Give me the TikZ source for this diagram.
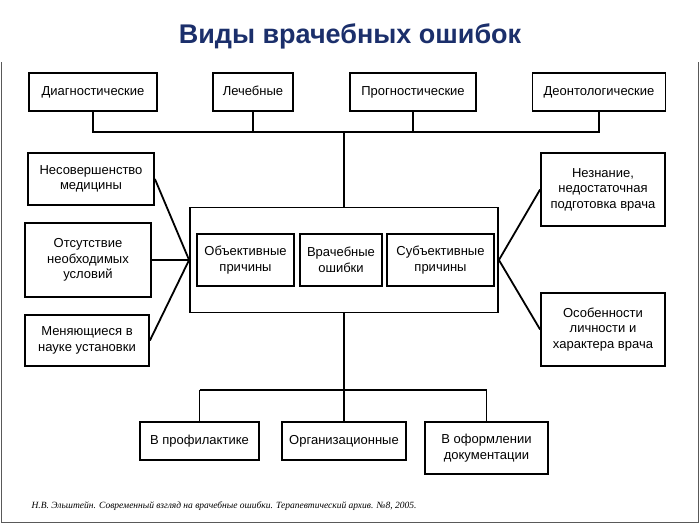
\documentclass[tikz,border=0pt]{standalone}
\usepackage{fontspec}
\setmainfont{Liberation Sans}
\newfontfamily\capfont{Liberation Serif}
\begin{document}
\begin{tikzpicture}[x=1pt,y=-1pt,
  bx/.style={draw,line width=1.8pt,inner sep=1pt,align=center,font=\fontsize{13}{15.5}\selectfont,fill=white},
  one/.style={text height=9.5pt,text depth=3pt},
  ln/.style={line width=1.8pt}]
\useasboundingbox (0,0) rectangle (700,525);
\definecolor{ttl}{HTML}{1B2F6B}
\node[font=\bfseries\fontsize{27}{30}\selectfont,text=ttl] (title) at (350,36) {Виды врачебных ошибок};
\draw[line width=1pt,gray!70!black] (1.5,62) -- (1.5,522) -- (698.5,522) -- (698.5,62);
% top
\node[bx,one,minimum width=128,minimum height=38] (d) at (93,92) {Диагностические};
\node[bx,one,minimum width=80,minimum height=38] (l) at (253,92) {Лечебные};
\node[bx,one,minimum width=126,minimum height=38] (p) at (413,92) {Прогностические};
\node[bx,one,minimum width=133,minimum height=38] (de) at (599,92) {Деонтологические};
\node[bx,minimum width=308,minimum height=105] (c) at (344,260) {};
\node[bx,minimum width=97,minimum height=52] (o) at (245.5,260) {Объективные\\причины};
\node[bx,minimum width=82,minimum height=52] (v) at (341,260) {Врачебные\\ошибки};
\node[bx,minimum width=107,minimum height=52] (s) at (440.5,260) {Субъективные\\причины};
\node[bx,minimum width=126,minimum height=52] (l1) at (91,179) {Несовершенство\\медицины};
\node[bx,minimum width=126,minimum height=74] (l2) at (88,260) {Отсутствие\\необходимых\\условий};
\node[bx,minimum width=124,minimum height=51] (l3) at (87,340.5) {Меняющиеся в\\науке установки};
\node[bx,minimum width=124,minimum height=73] (r1) at (603,189.5) {Незнание,\\недостаточная\\подготовка врача};
\node[bx,minimum width=124,minimum height=73] (r2) at (603,329.5) {Особенности\\личности и\\характера врача};
\node[bx,one,minimum width=119,minimum height=38] (b1) at (199.5,441) {В профилактике};
\node[bx,one,minimum width=124,minimum height=38] (b2) at (344,441) {Организационные};
\node[bx,minimum width=123,minimum height=52] (b3) at (486.5,448) {В оформлении\\документации};
\node[anchor=west,font=\capfont\itshape\fontsize{9.5}{11}\selectfont] (cap) at (28,506) {Н.В. Эльштейн. Современный взгляд на врачебные ошибки. Терапевтический архив. №8, 2005.};
% connectors
\coordinate (t1) at (d.south|-0,132);
\coordinate (t4) at (de.south|-0,132);
\draw[ln] (d.south) -- (t1) -- (t4) -- (de.south);
\draw[ln] (l.south) -- (l.south|-t1);
\draw[ln] (p.south) -- (p.south|-t1);
\draw[ln] (c.north) -- (c.north|-t1);
\coordinate (bb) at (c.south|-0,390);
\draw[ln] (c.south) -- (bb);
\draw[ln] (b1.north|-bb) -- (b3.north|-bb);
\draw[ln] (b1.north|-bb) -- (b1.north);
\draw[ln] (bb) -- (b2.north);
\draw[ln] (b3.north|-bb) -- (b3.north);
\draw[ln] (l1.east) -- (c.west);
\draw[ln] (l2.east) -- (c.west);
\draw[ln] (l3.east) -- (c.west);
\draw[ln] (c.east) -- (r1.west);
\draw[ln] (c.east) -- (r2.west);
\end{tikzpicture}
\end{document}
